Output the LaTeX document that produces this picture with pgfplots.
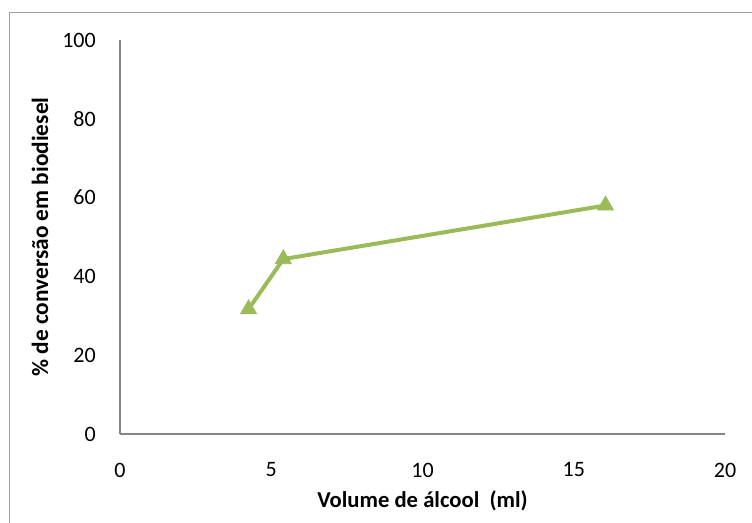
\documentclass[border=0pt]{standalone}
\usepackage{pgfplots}
\pgfplotsset{compat=1.18}
\usepackage{fontspec}
\setmainfont{Carlito}
\definecolor{lg}{HTML}{9BBB59}
\definecolor{axc}{HTML}{868686}
\definecolor{frm}{HTML}{A0A0A0}
\begin{document}
\begin{tikzpicture}
\useasboundingbox (0pt,0pt) rectangle (564pt,392.25pt);
\draw[frm, line width=1.2pt] (7pt,-10pt) rectangle (580pt,382.75pt);
\begin{axis}[
  at={(90pt,66.75pt)}, anchor=south west,
  scale only axis, width=453.75pt, height=295.5pt,
  xmin=0, xmax=20, ymin=0, ymax=100,
  xtick={0,5,10,15,20}, ytick={0,20,40,60,80,100},
  axis x line=bottom, axis y line=left,
  axis line style={axc, line width=1pt, -},
  major tick length=0pt,
  /pgf/number format/assume math mode=true,
  tick label style={font=\fontsize{16.5}{19}\selectfont, text=black},
  xticklabel style={anchor=center, yshift=-27pt},
  yticklabel style={anchor=east, inner sep=0pt, xshift=-18pt},
  clip=false,
]
\addplot[lg, line width=3pt, mark=triangle*, mark size=7pt, mark options={line width=0.5pt, fill=lg}]
  coordinates {(4.25,31.7) (5.4,44.4) (16.05,58.0)};
\end{axis}
\node[font=\bfseries\fontsize{17}{20}\selectfont] at (316.9pt,16.5pt) {Volume de álcool\ \ (ml)};
\node[rotate=90, font=\bfseries\fontsize{17.5}{20}\selectfont] at (30pt,214.5pt) {\% de conversão em biodiesel};
\end{tikzpicture}
\end{document}
